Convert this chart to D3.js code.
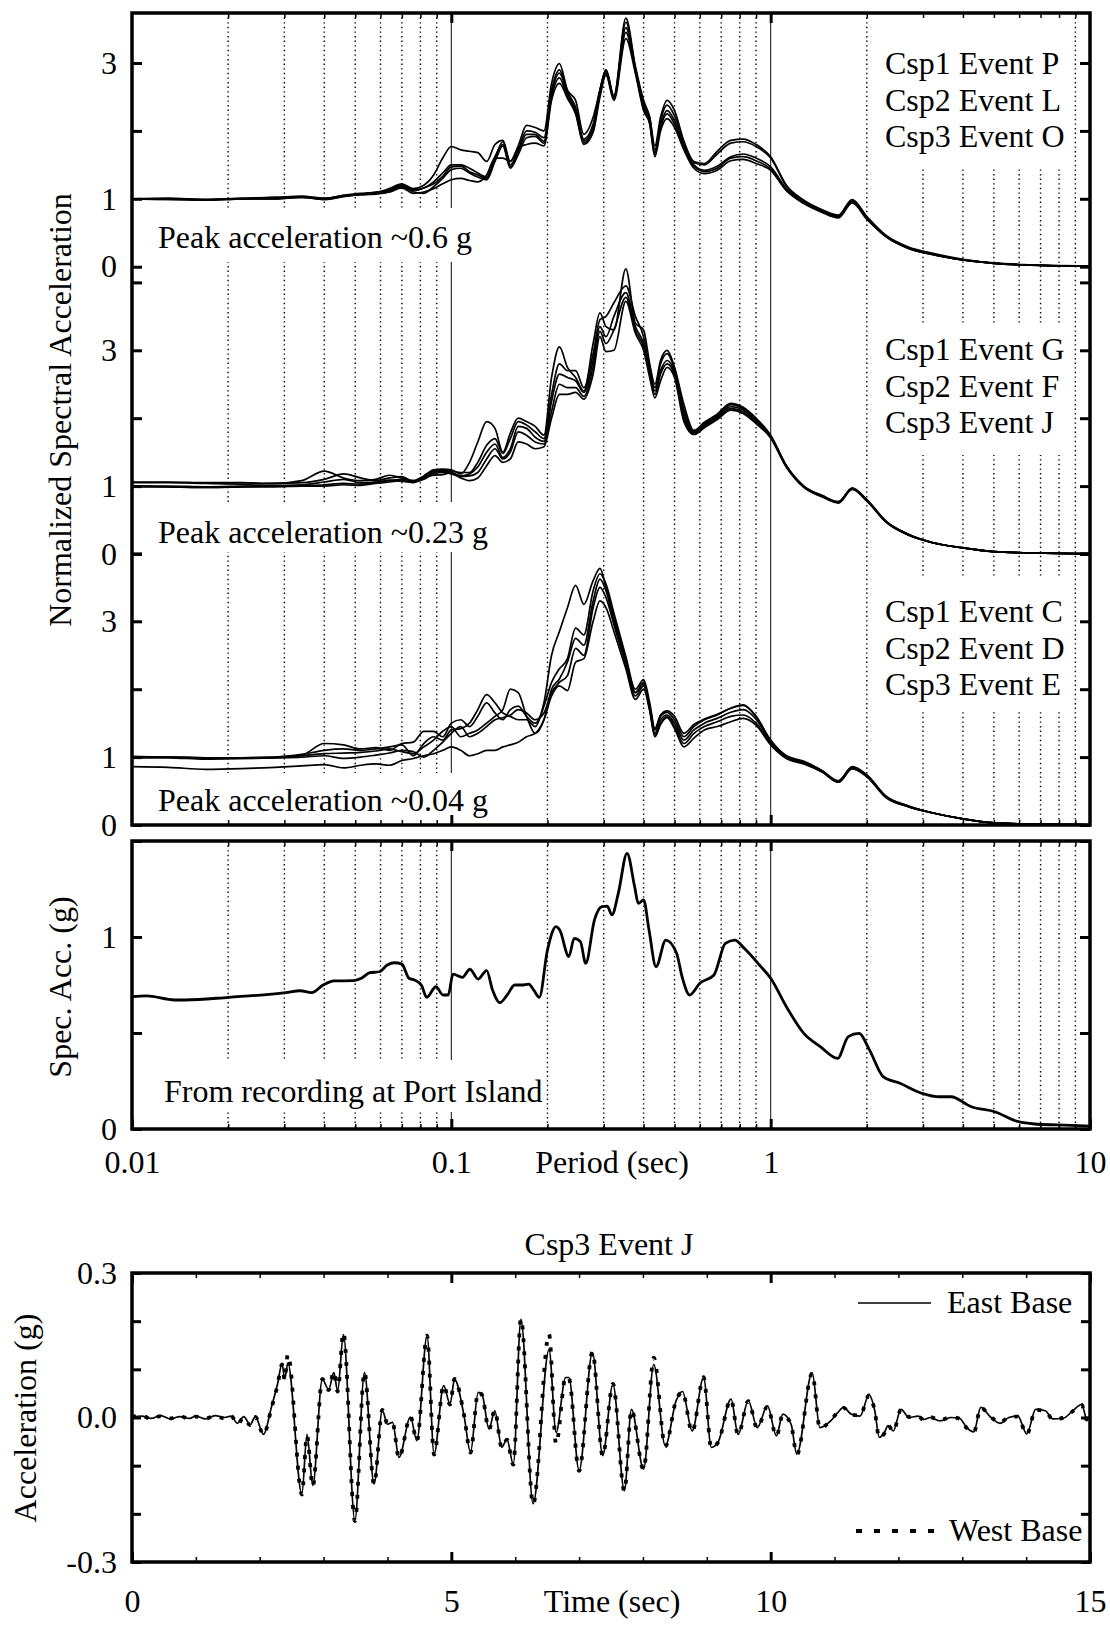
<!DOCTYPE html>
<html>
<head>
<meta charset="utf-8">
<script src="https://cdn.jsdelivr.net/npm/d3@7"></script>
<style>
  body { margin: 0; background: #fff; }
  svg text { font-family: "Liberation Serif", "Times New Roman", serif; fill: #000; }
</style>
</head>
<body>
<svg id="fig" width="1110" height="1627"></svg>
<script>
// ---------------- data ----------------
// Period grid shared by the normalized spectra (sec)
const periodGrid = [0.01,0.013,0.017,0.022,0.028,0.034,0.04,0.046,0.052,0.058,
  0.064,0.07,0.076,0.082,0.088,0.094,0.1,0.107,0.114,0.121,
  0.129,0.137,0.145,0.153,0.162,0.172,0.183,0.195,0.206,0.218,
  0.231,0.245,0.26,0.278,0.292,0.305,0.323,0.352,0.377,0.4,
  0.418,0.434,0.452,0.474,0.5,0.535,0.575,0.62,0.68,0.75,
  0.82,0.9,1.0,1.12,1.27,1.45,1.63,1.8,2.0,2.3,
  2.7,3.2,4,5,6.5,8,10];

// Peak acceleration ~0.6 g : Csp1 Event P, Csp2 Event L, Csp3 Event O
const strongA1 = [1.0,1.01,0.99,1.01,1.02,1.04,1.0,1.05,1.08,1.09,
  1.15,1.22,1.15,1.2,1.35,1.6,1.77,1.72,1.7,1.68,
  1.55,1.8,1.86,1.55,1.78,2.08,2.05,2.0,2.7,2.99,
  2.6,2.45,1.95,2.2,2.6,2.9,2.52,3.66,2.95,2.45,
  2.2,1.78,2.2,2.45,2.3,1.85,1.55,1.52,1.7,1.86,
  1.88,1.8,1.62,1.2,0.98,0.84,0.76,0.99,0.74,0.46,
  0.29,0.2,0.11,0.055,0.028,0.016,0.01];
const strongA2 = [1.0,1.0,0.99,1.0,1.02,1.03,1.01,1.04,1.07,1.1,
  1.13,1.2,1.13,1.16,1.25,1.38,1.5,1.5,1.45,1.38,
  1.32,1.6,1.84,1.5,1.72,2.0,1.98,1.9,2.6,2.9,
  2.58,2.35,1.88,2.1,2.6,2.9,2.5,3.6,2.93,2.4,
  2.2,1.72,2.15,2.38,2.22,1.82,1.53,1.5,1.66,1.82,
  1.84,1.77,1.6,1.19,0.97,0.83,0.75,0.98,0.73,0.45,
  0.28,0.19,0.1,0.05,0.025,0.014,0.01];
const strongA3 = [1.0,1.0,0.98,1.0,1.01,1.02,1.0,1.05,1.06,1.08,
  1.12,1.19,1.12,1.16,1.22,1.33,1.47,1.48,1.4,1.35,
  1.3,1.62,1.8,1.47,1.7,1.95,1.95,1.85,2.55,2.85,
  2.55,2.3,1.85,2.05,2.6,2.88,2.5,3.52,2.9,2.36,
  2.15,1.68,2.08,2.3,2.15,1.78,1.5,1.42,1.48,1.62,
  1.66,1.6,1.47,1.15,0.95,0.82,0.74,0.96,0.72,0.45,
  0.28,0.19,0.1,0.05,0.025,0.014,0.01];
const strongA4 = [1.0,0.99,0.99,1.0,1.0,1.03,0.99,1.04,1.07,1.08,
  1.1,1.18,1.1,1.08,1.18,1.3,1.43,1.45,1.38,1.32,
  1.28,1.55,1.78,1.45,1.65,1.9,1.92,1.82,2.5,2.78,
  2.5,2.28,1.82,2.0,2.55,2.85,2.48,3.45,2.88,2.33,
  2.12,1.65,2.05,2.25,2.1,1.75,1.48,1.4,1.45,1.6,
  1.62,1.56,1.44,1.13,0.94,0.81,0.73,0.95,0.71,0.44,
  0.27,0.18,0.1,0.05,0.024,0.013,0.01];
const strongA5 = [1.0,0.99,0.98,1.0,1.0,1.02,0.99,1.03,1.06,1.07,
  1.1,1.16,1.08,1.1,1.15,1.22,1.28,1.3,1.27,1.25,
  1.35,1.6,1.6,1.55,1.75,1.8,1.82,1.78,2.45,2.7,
  2.48,2.25,1.8,1.98,2.5,2.82,2.45,3.36,2.85,2.3,
  2.1,1.62,2.0,2.18,2.05,1.72,1.45,1.37,1.42,1.56,
  1.58,1.52,1.42,1.12,0.93,0.8,0.72,0.94,0.7,0.44,
  0.27,0.18,0.1,0.05,0.024,0.013,0.01];

// Peak acceleration ~0.23 g : Csp1 Event G, Csp2 Event F, Csp3 Event J
const mediumB1 = [1.06,1.06,1.05,1.05,1.04,1.08,1.22,1.12,1.08,1.1,
  1.16,1.12,1.08,1.15,1.24,1.25,1.24,1.18,1.35,1.65,
  1.95,1.85,1.5,1.78,2.0,1.95,1.88,1.75,2.6,3.05,
  2.75,2.6,2.4,3.1,3.55,3.35,3.3,4.2,3.4,3.3,
  2.8,2.5,2.85,3.0,2.75,2.2,1.82,1.94,2.06,2.22,
  2.16,2.0,1.75,1.3,1.0,0.86,0.77,0.97,0.8,0.48,
  0.29,0.17,0.09,0.035,0.015,0.008,0.005];
const mediumB2 = [1.05,1.05,1.04,1.03,1.04,1.05,1.1,1.18,1.12,1.08,
  1.12,1.14,1.07,1.14,1.22,1.23,1.22,1.2,1.2,1.35,
  1.6,1.7,1.48,1.7,1.95,1.9,1.8,1.7,2.35,2.8,
  2.7,2.7,2.45,2.95,3.45,3.5,3.7,3.95,3.5,3.2,
  2.75,2.45,2.8,2.95,2.72,2.12,1.8,1.92,2.04,2.2,
  2.14,1.98,1.74,1.3,1.0,0.86,0.77,0.97,0.8,0.48,
  0.29,0.17,0.09,0.035,0.015,0.008,0.005];
const mediumB3 = [1.0,1.0,0.99,1.0,1.01,1.02,1.06,1.1,1.05,1.06,
  1.08,1.1,1.08,1.12,1.2,1.22,1.2,1.15,1.18,1.28,
  1.5,1.62,1.42,1.55,1.88,1.85,1.72,1.66,2.25,2.65,
  2.6,2.55,2.38,2.85,3.35,3.2,3.5,3.85,3.35,3.1,
  2.7,2.4,2.7,2.85,2.68,2.06,1.79,1.9,2.02,2.17,
  2.12,1.96,1.73,1.29,0.99,0.85,0.76,0.96,0.79,0.47,
  0.28,0.17,0.09,0.035,0.015,0.008,0.005];
const mediumB4 = [1.0,0.99,0.98,0.99,1.0,1.01,1.02,1.04,1.03,1.05,
  1.09,1.07,1.06,1.1,1.18,1.2,1.18,1.14,1.15,1.2,
  1.4,1.55,1.4,1.5,1.8,1.75,1.65,1.62,2.1,2.5,
  2.45,2.45,2.32,2.75,3.28,3.1,3.3,3.78,3.3,3.05,
  2.65,2.35,2.65,2.8,2.64,2.0,1.78,1.88,2.0,2.14,
  2.09,1.94,1.72,1.28,0.99,0.85,0.76,0.96,0.79,0.47,
  0.28,0.17,0.09,0.035,0.015,0.008,0.005];
const mediumB5 = [0.99,0.99,0.98,0.99,0.99,1.0,1.0,1.02,1.01,1.04,
  1.06,1.08,1.05,1.12,1.16,1.17,1.2,1.12,1.08,1.12,
  1.3,1.45,1.35,1.4,1.65,1.62,1.55,1.58,2.0,2.35,
  2.35,2.38,2.28,2.65,3.2,2.98,3.0,3.72,3.25,3.0,
  2.6,2.3,2.55,2.75,2.6,1.95,1.76,1.86,1.98,2.12,
  2.07,1.92,1.71,1.28,0.98,0.84,0.75,0.95,0.78,0.47,
  0.28,0.17,0.09,0.035,0.015,0.008,0.005];

// Peak acceleration ~0.04 g : Csp1 Event C, Csp2 Event D, Csp3 Event E
const weakC1 = [1.0,1.0,0.99,0.99,1.0,1.03,1.2,1.18,1.12,1.14,
  1.1,1.2,1.22,1.38,1.38,1.3,1.5,1.55,1.45,1.6,
  1.8,1.65,1.55,1.7,1.75,1.6,1.5,1.8,2.5,2.85,
  3.2,3.53,3.25,3.6,3.78,3.5,3.05,2.45,1.95,2.1,
  1.75,1.4,1.6,1.66,1.55,1.3,1.45,1.55,1.62,1.72,
  1.77,1.6,1.25,1.02,0.94,0.8,0.65,0.86,0.74,0.42,
  0.28,0.18,0.09,0.03,0.012,0.006,0.004];
const weakC2 = [1.0,1.0,0.98,0.99,1.0,1.04,1.1,1.12,1.1,1.12,
  1.15,1.18,1.02,1.2,1.3,1.25,1.4,1.42,1.5,1.7,
  1.92,1.8,1.65,1.6,1.55,1.55,1.45,1.75,2.1,2.3,
  2.45,2.9,2.8,3.45,3.7,3.55,3.12,2.48,2.0,2.14,
  1.8,1.42,1.62,1.68,1.6,1.35,1.48,1.56,1.63,1.72,
  1.76,1.6,1.24,1.01,0.93,0.8,0.65,0.85,0.73,0.42,
  0.28,0.18,0.09,0.03,0.012,0.006,0.004];
const weakC3 = [1.01,1.0,0.99,0.98,0.99,1.02,1.05,1.06,1.07,1.09,
  1.12,1.08,1.05,1.15,1.25,1.38,1.45,1.3,1.35,1.4,
  1.5,1.6,1.7,2.0,1.95,1.6,1.35,1.55,2.0,2.15,
  2.4,2.75,2.65,3.3,3.62,3.45,3.0,2.4,1.95,2.08,
  1.72,1.35,1.55,1.62,1.5,1.25,1.4,1.5,1.57,1.66,
  1.7,1.56,1.22,1.0,0.92,0.79,0.64,0.84,0.72,0.41,
  0.27,0.18,0.09,0.03,0.012,0.006,0.004];
const weakC4 = [0.99,0.99,0.97,0.98,0.99,1.0,1.02,0.98,1.0,1.03,
  1.06,1.1,1.08,1.0,1.1,1.22,1.35,1.45,1.3,1.35,
  1.45,1.55,1.58,1.62,1.7,1.65,1.55,1.65,1.95,2.1,
  2.2,2.6,2.5,3.2,3.5,3.35,2.95,2.35,1.9,2.05,
  1.7,1.32,1.5,1.6,1.45,1.2,1.35,1.45,1.52,1.6,
  1.62,1.5,1.2,0.99,0.91,0.78,0.63,0.83,0.72,0.41,
  0.27,0.18,0.09,0.03,0.012,0.006,0.004];
const weakC5 = [0.86,0.85,0.82,0.83,0.85,0.87,0.89,0.84,0.88,0.9,
  0.88,0.95,0.98,1.02,1.05,1.1,1.15,1.1,1.02,1.05,
  1.1,1.1,1.15,1.18,1.22,1.3,1.35,1.55,1.9,2.05,
  1.98,2.4,2.45,3.0,3.3,3.2,2.85,2.3,1.85,2.0,
  1.68,1.3,1.48,1.58,1.42,1.15,1.28,1.4,1.45,1.52,
  1.57,1.47,1.18,0.98,0.9,0.78,0.63,0.83,0.71,0.4,
  0.27,0.18,0.09,0.03,0.012,0.006,0.004];

// Spectral acceleration of the Port Island recording (g)
const portPeriod = [0.01,0.0111,0.0136,0.0147,0.0201,0.0303,0.0336,0.0365,0.0397,0.0429,
  0.0494,0.0523,0.0556,0.0595,0.063,0.0663,0.07,0.0737,0.0767,0.0807,
  0.0837,0.0895,0.0942,0.0978,0.1012,0.1083,0.1143,0.1213,0.129,0.1346,
  0.1419,0.1496,0.158,0.1657,0.1748,0.181,0.1886,0.2,0.2128,0.2185,
  0.2333,0.2425,0.2536,0.2635,0.2807,0.2958,0.3077,0.3183,0.3333,0.355,
  0.375,0.385,0.4,0.416,0.4375,0.4695,0.5075,0.528,0.558,0.6,
  0.6644,0.7214,0.7722,0.8264,0.9224,1.0,1.12,1.27,1.43,1.62,
  1.75,1.89,2.04,2.25,2.54,2.98,3.38,3.67,4.25,5.03,
  5.97,6.7,7.9,9.66,10];
const portAcc = [0.689,0.693,0.672,0.672,0.686,0.710,0.720,0.710,0.750,0.771,
  0.773,0.785,0.814,0.819,0.854,0.866,0.859,0.785,0.776,0.747,
  0.686,0.741,0.698,0.698,0.807,0.790,0.832,0.781,0.825,0.724,
  0.658,0.698,0.750,0.750,0.755,0.724,0.686,0.932,1.054,1.036,
  0.898,0.993,0.976,0.863,1.089,1.158,1.161,1.115,1.227,1.436,
  1.262,1.175,1.193,1.036,0.845,0.984,0.915,0.793,0.698,0.759,
  0.802,0.967,0.984,0.941,0.854,0.785,0.637,0.498,0.429,0.368,
  0.481,0.498,0.411,0.273,0.238,0.186,0.168,0.168,0.116,0.090,
  0.038,0.026,0.021,0.016,0.015];

// Csp3 Event J base accelerations (g) versus time (sec)
const baseTime = [0,0.15,0.3,0.45,0.6,0.75,0.9,1.0,1.15,1.3,
  1.45,1.55,1.65,1.75,1.85,1.93,2.06,2.18,2.28,2.35,
  2.39,2.44,2.66,2.74,2.83,2.98,3.08,3.16,3.22,3.31,
  3.49,3.64,3.79,3.92,4.0,4.08,4.18,4.36,4.46,4.62,
  4.73,4.88,4.98,5.05,5.2,5.3,5.42,5.48,5.59,5.68,
  5.79,5.87,5.97,6.09,6.28,6.53,6.64,6.79,6.84,7.0,
  7.21,7.37,7.53,7.71,7.82,8.01,8.17,8.35,8.52,8.62,
  8.77,8.95,9.07,9.18,9.38,9.49,9.65,9.79,9.95,10.09,
  10.19,10.32,10.41,10.65,10.77,10.94,11.05,11.14,11.26,11.4,
  11.54,11.63,11.7,11.77,11.84,11.92,12.04,12.17,12.31,12.4,
  12.5,12.65,12.82,12.96,13.07,13.18,13.29,13.45,13.59,13.73,
  13.87,14.01,14.15,14.3,14.42,14.59,14.73,14.87,14.95,15];
const eastBaseAcc = [0,0.003,-0.002,0.004,-0.003,0.002,-0.002,0.003,-0.003,0.004,
  0,0.003,-0.012,0.002,-0.015,0.002,-0.035,0.02,0.07,0.112,
  0.08,0.113,-0.159,-0.035,-0.141,0.079,0.058,0.093,0.055,0.172,
  -0.214,0.093,-0.138,0.015,-0.014,-0.01,-0.083,0.001,-0.048,0.169,
  -0.076,0.066,0.028,0.079,0.003,-0.072,0.052,0.048,-0.024,0.014,
  -0.062,-0.045,-0.097,0.204,-0.179,0.141,-0.031,0.083,0.083,-0.11,
  0.135,-0.079,0.069,-0.152,0.017,-0.107,0.11,-0.059,0.035,0.054,
  -0.028,0.083,-0.062,-0.05,0.038,-0.035,0.035,-0.021,0.024,-0.038,
  0.007,-0.014,-0.076,0.093,-0.021,-0.007,0.01,0.021,0.007,0.003,
  0.047,0.014,-0.041,-0.034,-0.017,-0.028,0.017,0,0.003,-0.004,
  0,-0.007,0,-0.002,-0.021,-0.03,0.021,0,-0.012,0,
  0.003,-0.034,0.017,0.014,-0.003,-0.001,0.014,0.027,-0.003,0];
const westBaseAcc = [0.001,0.004,-0.003,0.003,-0.002,0.003,-0.003,0.002,-0.002,0.003,
  -0.002,0.004,-0.014,0.0,-0.016,0.001,-0.036,0.018,0.068,0.11,
  0.078,0.131,-0.16,-0.037,-0.143,0.08,0.057,0.095,0.054,0.176,
  -0.215,0.094,-0.139,0.016,-0.013,-0.011,-0.084,0.002,-0.049,0.17,
  -0.077,0.067,0.027,0.08,0.004,-0.073,0.053,0.047,-0.025,0.015,
  -0.063,-0.046,-0.098,0.205,-0.18,0.173,-0.055,0.084,0.082,-0.111,
  0.136,-0.08,0.07,-0.153,0.016,-0.108,0.124,-0.06,0.036,0.053,
  -0.03,0.084,-0.063,-0.051,0.037,-0.036,0.034,-0.022,0.023,-0.039,
  0.006,-0.015,-0.077,0.092,-0.022,-0.006,0.011,0.02,0.006,0.004,
  0.046,0.013,-0.042,-0.035,-0.016,-0.029,0.016,0.001,0.002,-0.005,
  0.001,-0.006,0.001,-0.003,-0.022,-0.031,0.02,0.001,-0.011,0.001,
  0.002,-0.035,0.016,0.013,-0.004,0,0.013,0.026,-0.004,0.001];

// Tick values
const normTicks = [0, 1, 2, 3, 4];
const normLabels = [0, 1, 3];
const portTicks = [0, 0.5, 1, 1.5];
const periodLabels = [0.01, 0.1, 1, 10];
const accTicks = [-0.3, -0.2, -0.1, 0, 0.1, 0.2, 0.3];
const accLabels = [-0.3, 0, 0.3];
const timeTicks = d3.range(0, 16);
const timeLabels = [0, 5, 10, 15];

// ---------------- layout ----------------
const X0 = 132, X1 = 1090;
const NORM_TOP = 13, NORM_BOT = 825;
const UNIT = 67.9;
const ZERO_A = 266.7, ZERO_B = 554, ZERO_C = 825;
const MID_TOP = 841, MID_BOT = 1129;
const TH_TOP = 1273, TH_BOT = 1562;
const FONT = 32;

const svg = d3.select("#fig");

const x = d3.scaleLog().domain([0.01, 10]).range([X0, X1]);
const yA = d3.scaleLinear().domain([0, 1]).range([ZERO_A, ZERO_A - UNIT]);
const yB = d3.scaleLinear().domain([0, 1]).range([ZERO_B, ZERO_B - UNIT]);
const yC = d3.scaleLinear().domain([0, 1]).range([ZERO_C, ZERO_C - UNIT]);
const yPort = d3.scaleLinear().domain([0, 1.5]).range([MID_BOT, MID_TOP]);
const xT = d3.scaleLinear().domain([0, 15]).range([X0, X1]);
const yT = d3.scaleLinear().domain([-0.3, 0.3]).range([TH_BOT, TH_TOP]);

// minor / major period grid positions
const minorPeriods = [];
[0.01, 0.1, 1].forEach(d => { for (let k = 2; k <= 9; k++) minorPeriods.push(+(d * k).toPrecision(3)); });
const majorPeriods = [0.1, 1];

function drawPeriodGrid(g, yTop, yBot) {
  g.selectAll(null).data(minorPeriods).join("line")
    .attr("x1", d => x(d)).attr("x2", d => x(d))
    .attr("y1", yTop).attr("y2", yBot)
    .attr("stroke", "#000").attr("stroke-width", 1.4)
    .attr("stroke-dasharray", "1.4,3.2");
  g.selectAll(null).data(majorPeriods).join("line")
    .attr("x1", d => x(d)).attr("x2", d => x(d))
    .attr("y1", yTop).attr("y2", yBot)
    .attr("stroke", "#222").attr("stroke-width", 1.1);
}

const gridLayer = svg.append("g");
drawPeriodGrid(gridLayer, NORM_TOP, NORM_BOT);
drawPeriodGrid(gridLayer, MID_TOP, MID_BOT);

// white backings behind the annotations
const maskLayer = svg.append("g").attr("fill", "#fff");
[[148, 208, 484, 262], [148, 502, 496, 552], [148, 773, 496, 825],
 [152, 1060, 546, 1112],
 [876, 13, 1071, 167], [876, 323, 1071, 455], [876, 578, 1071, 710]]
  .forEach(([a, b, c, d]) => maskLayer.append("rect")
    .attr("x", a).attr("y", b).attr("width", c - a).attr("height", d - b));

// annotations
const ann = svg.append("g").attr("font-size", FONT);
ann.append("text").attr("x", 158).attr("y", 248).text("Peak acceleration ~0.6 g");
ann.append("text").attr("x", 158).attr("y", 543).text("Peak acceleration ~0.23 g");
ann.append("text").attr("x", 158).attr("y", 811).text("Peak acceleration ~0.04 g");
ann.append("text").attr("x", 164).attr("y", 1102).text("From recording at Port Island");

const legendSets = [
  [["Csp1 Event P", "Csp2 Event L", "Csp3 Event O"], 74],
  [["Csp1 Event G", "Csp2 Event F", "Csp3 Event J"], 360],
  [["Csp1 Event C", "Csp2 Event D", "Csp3 Event E"], 622]
];
legendSets.forEach(([lines, y0]) => {
  lines.forEach((t, i) => ann.append("text").attr("x", 885).attr("y", y0 + i * 36.6).text(t));
});

// spectra
const curveLayer = svg.append("g").attr("fill", "none").attr("stroke", "#000");
function spectrum(values, yScale, width) {
  const pts = periodGrid.map((p, i) => [p, values[i]]);
  curveLayer.append("path")
    .attr("d", d3.line().x(d => x(d[0])).y(d => yScale(d[1])).curve(d3.curveMonotoneX)(pts))
    .attr("stroke-width", width).attr("stroke-linejoin", "round");
}
[strongA1, strongA2, strongA3, strongA4, strongA5].forEach(s => spectrum(s, yA, 1.7));
[mediumB1, mediumB2, mediumB3, mediumB4, mediumB5].forEach(s => spectrum(s, yB, 1.7));
[weakC1, weakC2, weakC3, weakC4, weakC5].forEach(s => spectrum(s, yC, 1.7));

curveLayer.append("path")
  .attr("d", d3.line().x((d, i) => x(portPeriod[i])).y(d => yPort(d)).curve(d3.curveMonotoneX)(portAcc))
  .attr("stroke-width", 2.8).attr("stroke-linejoin", "round");

// base acceleration histories
const histLine = d3.line().x((d, i) => xT(baseTime[i])).y(d => yT(d)).curve(d3.curveMonotoneX);
curveLayer.append("path").attr("d", histLine(eastBaseAcc)).attr("stroke-width", 1.7);
curveLayer.append("path").attr("d", histLine(westBaseAcc))
  .attr("stroke-width", 3.8).attr("stroke-dasharray", "4,9");

// ---------------- frames & axes ----------------
const frame = svg.append("g").attr("fill", "none").attr("stroke", "#000").attr("stroke-width", 3.5);
frame.append("rect").attr("x", X0).attr("y", NORM_TOP).attr("width", X1 - X0).attr("height", NORM_BOT - NORM_TOP);
frame.append("rect").attr("x", X0).attr("y", MID_TOP).attr("width", X1 - X0).attr("height", MID_BOT - MID_TOP);
frame.append("rect").attr("x", X0).attr("y", TH_TOP).attr("width", X1 - X0).attr("height", TH_BOT - TH_TOP);

function styleAxis(g, w) {
  g.select(".domain").remove();
  g.attr("font-family", null).attr("font-size", FONT);
  g.selectAll(".tick line").attr("stroke", "#000").attr("stroke-width", w);
  g.selectAll(".tick text").attr("fill", "#000");
}

function yPair(scale, ticks, labels, fmt, size) {
  const left = svg.append("g").attr("transform", `translate(${X0},0)`)
    .call(d3.axisLeft(scale).tickValues(ticks).tickSizeInner(-size).tickSizeOuter(0).tickPadding(15)
      .tickFormat(v => labels.some(l => Math.abs(l - v) < 1e-9) ? fmt(v) : ""));
  styleAxis(left, 3);
  const right = svg.append("g").attr("transform", `translate(${X1},0)`)
    .call(d3.axisRight(scale).tickValues(ticks).tickSizeInner(-size).tickSizeOuter(0).tickFormat(""));
  styleAxis(right, 3);
}
const intFmt = v => String(v);
yPair(yA, normTicks.slice(0, 4), normLabels, intFmt, 10);
yPair(yB, normTicks, normLabels, intFmt, 10);
yPair(yC, normTicks, normLabels, intFmt, 10);
yPair(yPort, portTicks, [0, 1], intFmt, 10);
yPair(yT, accTicks, accLabels, v => v.toFixed(1), 9);

// period / time ticks on a frame edge; "down" ticks hang from a top edge, "up" ticks rise from a bottom edge
function xTicks(scale, edges, minor, major, labels, fmt, pad) {
  [[minor, 5, 1.5, false], [major, 10, 3, true]].forEach(([vals, size, w, lab]) => {
    edges.forEach(([yy, dir, withLabels]) => {
      const axis = (dir === "down" ? d3.axisTop(scale) : d3.axisBottom(scale))
        .tickValues(vals).tickSizeInner(-size).tickSizeOuter(0).tickPadding(pad)
        .tickFormat(v => (lab && withLabels && labels.includes(v)) ? fmt(v) : "");
      const g = svg.append("g").attr("transform", `translate(0,${yy})`).call(axis);
      styleAxis(g, w);
    });
  });
}
xTicks(x, [[NORM_TOP, "down", false], [NORM_BOT, "up", false], [MID_TOP, "down", false]],
  minorPeriods, majorPeriods, [], String, 23);
xTicks(x, [[MID_BOT, "up", true]], minorPeriods, [0.01, 0.1, 1, 10], periodLabels, v => String(v), 21);
const minorTimes = timeTicks.filter(t => t % 5 !== 0);
xTicks(xT, [[TH_TOP, "down", false]], minorTimes, timeLabels, [], String, 28);
xTicks(xT, [[TH_BOT, "up", true]], minorTimes, timeLabels, timeLabels, v => String(v), 27);

// axis titles
const titles = svg.append("g").attr("font-size", FONT).attr("text-anchor", "middle");
titles.append("text").attr("transform", "translate(71,410) rotate(-90)").text("Normalized Spectral Acceleration");
titles.append("text").attr("transform", "translate(71,987) rotate(-90)").text("Spec. Acc. (g)");
titles.append("text").attr("transform", "translate(36,1418) rotate(-90)").text("Acceleration (g)");
titles.append("text").attr("x", 612).attr("y", 1173).text("Period (sec)");
titles.append("text").attr("x", 612).attr("y", 1612).text("Time (sec)");
titles.append("text").attr("x", 609).attr("y", 1255).text("Csp3 Event J");

// legend for the base records
const leg = svg.append("g").attr("font-size", FONT);
leg.append("line").attr("x1", 858).attr("x2", 931).attr("y1", 1303).attr("y2", 1303)
  .attr("stroke", "#000").attr("stroke-width", 1.7);
leg.append("text").attr("x", 947).attr("y", 1313).text("East Base");
leg.append("line").attr("x1", 856).attr("x2", 936).attr("y1", 1531).attr("y2", 1531)
  .attr("stroke", "#000").attr("stroke-width", 3.8).attr("stroke-dasharray", "6,12");
leg.append("text").attr("x", 949).attr("y", 1541).text("West Base");
</script>
</body>
</html>
